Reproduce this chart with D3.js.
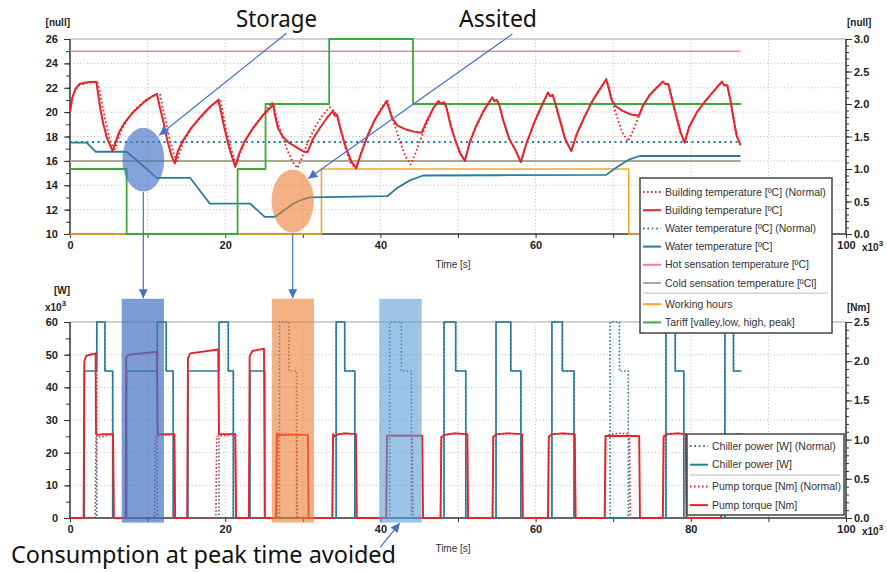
<!DOCTYPE html>
<html>
<head>
<meta charset="UTF-8">
<style>
  body { margin: 0; background: #fff; }
  svg { display: block; font-family: "Liberation Sans", Arial, sans-serif; }
  .tick text { font-weight: bold; font-size: 11px; fill: #222; }
  .tick line { stroke: #333; }
  .grid line { stroke: #c4c4c4; stroke-dasharray: 1.2,2.2; }
  .unit { font-weight: bold; font-size: 10px; fill: #222; }
  .legend text { font-size: 10.5px; fill: #333; }
  .note { font-family: "Noto Sans", sans-serif; font-size: 23px; fill: #111; }
</style>
</head>
<body>
<svg id="chart" width="887" height="572"></svg>
<script src="https://d3js.org/d3.v7.min.js"></script>
<script>
// time in x10^3 s
const buildTemp = [[0,20.0],[0.3,21.2],[0.7,21.9],[1.2,22.3],[2.2,22.45],[3.4,22.5],[3.6,21.6],[3.9,20.3],[4.3,19.0],[4.8,17.8],[5.5,16.8],[5.8,17.4],[6.3,18.3],[7,19.1],[8,19.9],[9.5,20.8],[10.6,21.3],[11.2,21.5],[11.5,20.6],[12,19.3],[12.6,17.5],[13.1,16.4],[13.5,15.8],[13.9,16.8],[14.5,17.6],[15.5,18.6],[16.8,19.6],[18,20.4],[19.1,21.0],[19.4,20.2],[19.9,18.7],[20.5,17.1],[21.0,16.1],[21.3,15.5],[21.8,16.6],[22.5,17.6],[23.5,18.6],[24.8,19.7],[26.2,20.6],[26.4,19.8],[26.8,18.7],[27.4,18.0],[28.2,17.5],[29.2,17.1],[30.0,16.8],[30.6,16.7],[31.3,17.8],[32.2,18.7],[33.2,19.6],[33.9,20.1],[34.1,19.7],[34.4,19.8],[34.9,18.5],[35.6,17.0],[36.3,15.9],[36.9,15.4],[37.5,16.6],[38.3,18.0],[39.3,19.4],[40.3,20.4],[40.8,20.9],[41.1,20.3],[41.5,19.5],[42.2,18.9],[43.2,18.6],[44.3,18.4],[45.3,18.3],[46.0,19.3],[46.8,20.3],[47.5,20.9],[47.8,20.7],[48.2,20.8],[48.5,20.4],[49.1,18.8],[49.7,17.6],[50.3,16.6],[50.9,16.0],[51.5,17.5],[52.3,18.8],[53.3,20.1],[54.4,21.2],[54.7,20.9],[55.0,21.0],[55.3,20.6],[55.9,19.2],[56.6,17.8],[57.4,16.9],[58.1,15.9],[58.8,17.4],[59.8,19.1],[60.7,20.4],[61.6,21.6],[61.9,21.3],[62.2,21.4],[62.5,20.8],[63.2,19.2],[63.8,17.8],[64.2,17.3],[64.6,16.8],[65.3,18.2],[66.3,19.6],[67.3,20.9],[68.2,21.8],[69.1,22.7],[69.4,22.0],[69.8,21.0],[70.3,20.5],[71.2,20.1],[72.3,19.8],[73.3,19.7],[73.8,20.5],[74.7,21.4],[75.6,22.0],[76.4,22.5],[76.7,22.3],[77.1,22.3],[77.6,21.0],[78.2,19.5],[78.7,18.3],[79.2,17.5],[79.8,18.8],[80.8,20.0],[82,21.0],[83.2,21.9],[84.0,22.5],[84.3,22.2],[84.7,22.2],[85.1,21.0],[85.5,19.5],[85.9,18.1],[86.4,17.3]];

const buildTempNormal = [[0,20.0],[0.3,21.1],[0.7,21.8],[1.2,22.2],[2.2,22.4],[3.5,22.5],[3.8,21.8],[4.2,20.4],[4.6,19.2],[5.1,17.8],[5.7,16.8],[6.1,17.6],[6.6,18.5],[7.4,19.4],[8.5,20.3],[9.8,21.0],[11.0,21.4],[11.6,21.5],[11.9,20.5],[12.4,19.1],[12.9,17.6],[13.4,16.5],[13.8,16.0],[14.2,16.9],[14.8,17.8],[15.8,18.8],[17,19.7],[18.2,20.5],[19.3,21.1],[19.6,20.3],[20.1,18.6],[20.7,17.1],[21.2,16.1],[21.5,15.8],[22.0,16.8],[22.7,17.8],[23.7,18.8],[25.0,19.9],[26.0,20.8],[26.3,20.4],[26.7,19.3],[27.3,18.1],[28.0,16.9],[28.7,15.9],[29.3,15.4],[29.9,16.3],[30.7,17.6],[31.6,18.8],[32.6,19.8],[33.5,20.4],[33.8,20.2],[34.2,19.9],[34.5,19.6],[35.0,18.3],[35.6,16.8],[36.2,15.8],[36.8,15.4],[37.5,16.6],[38.3,18.0],[39.3,19.4],[40.3,20.5],[40.9,21.0],[41.2,20.3],[41.8,19.0],[42.5,17.6],[43.2,16.4],[43.9,15.7],[44.5,16.6],[45.2,17.8],[46.0,19.1],[46.8,20.3],[47.5,20.9],[47.8,20.7],[48.2,20.8],[48.5,20.4],[49.1,18.8],[49.7,17.6],[50.3,16.6],[50.9,16.0],[51.5,17.5],[52.3,18.8],[53.3,20.1],[54.4,21.2],[54.7,20.9],[55.0,21.0],[55.3,20.6],[55.9,19.2],[56.6,17.8],[57.4,16.9],[58.1,15.9],[58.8,17.4],[59.8,19.1],[60.7,20.4],[61.6,21.6],[61.9,21.3],[62.2,21.4],[62.5,20.8],[63.2,19.2],[63.8,17.8],[64.2,17.3],[64.6,16.8],[65.3,18.2],[66.3,19.6],[67.3,20.9],[68.2,21.8],[69.1,22.7],[69.5,21.9],[70.0,20.6],[70.6,19.4],[71.2,18.3],[71.9,17.6],[72.5,18.4],[73.2,19.5],[73.8,20.4],[74.7,21.4],[75.6,22.0],[76.4,22.5],[76.7,22.3],[77.1,22.3],[77.6,21.0],[78.2,19.5],[78.7,18.3],[79.2,17.5],[79.8,18.8],[80.8,20.0],[82,21.0],[83.2,21.9],[84.0,22.5],[84.3,22.2],[84.7,22.2],[85.1,21.0],[85.5,19.5],[85.9,18.1],[86.4,17.3]];

const waterTemp = [[0,17.5],[2.15,17.5],[3.3,16.75],[7.3,16.75],[11.2,14.6],[15.5,14.6],[18.0,12.5],[23.2,12.5],[25.1,11.4],[26.4,11.4],[27.5,11.9],[28.8,12.5],[30.0,12.85],[30.9,13.0],[35,13.05],[40.9,13.1],[42.2,13.8],[43.8,14.4],[45.5,14.8],[55,14.82],[69.1,14.85],[70.5,15.5],[72.0,16.1],[73.4,16.4],[86.4,16.4]];
const waterTempNormal = [[0,17.55],[86.4,17.55]];
const hotTemp = [[0,25],[86.4,25]];
const coldTemp = [[0,16],[86.4,16]];
// right axis, step values
const workingHours = [[0,0],[32.4,1],[72.0,0],[86.5,0]];
const tariff = [[0,1],[7.3,0],[21.6,1],[25.2,2],[33.4,3],[44.2,2],[86.5,2]];

// chiller power, x10^3 W, step values
const chiller = [[0,0],[1.85,45],[3.45,60],[4.5,45],[5.5,0],[7.3,45],[11.25,60],[12.4,45],[13.3,0],[15.2,45],[19.2,60],[20.4,45],[21.05,0],[23.2,45],[25.1,0],[34.3,60],[35.4,45],[36.7,0],[48.2,60],[49.7,45],[51.0,0],[54.9,60],[56.8,45],[58.1,0],[62.1,60],[63.45,45],[64.95,0],[76.8,60],[78.0,45],[79.1,0],[84.4,60],[85.5,45],[86.5,45]];
const chillerNormal = [[0,0],[3.45,60],[4.5,45],[5.5,0],[11.25,60],[12.4,45],[13.3,0],[19.2,60],[20.4,45],[21.05,0],[27.0,60],[28.2,45],[29.2,0],[34.3,60],[35.4,45],[36.7,0],[41.2,60],[42.7,45],[44.0,0],[48.2,60],[49.7,45],[51.0,0],[54.9,60],[56.8,45],[58.1,0],[62.1,60],[63.45,45],[64.95,0],[69.6,60],[70.8,45],[71.95,0],[76.8,60],[78.0,45],[79.1,0],[84.4,60],[85.5,45],[86.5,45]];
// pump torque, Nm
const pump = [[0,0],[1.75,0],[1.85,2.0],[2.1,2.07],[3.3,2.1],[3.35,1.07],[3.6,1.06],[4.2,1.07],[5.55,1.07],[5.65,0],[7.15,0],[7.25,2.04],[7.5,2.08],[11.2,2.12],[11.3,1.06],[11.6,1.07],[13.45,1.07],[13.55,0],[15.1,0],[15.2,2.04],[15.5,2.1],[19.1,2.15],[19.2,1.07],[21.3,1.07],[21.4,0],[23.05,0],[23.15,2.06],[23.5,2.13],[25.0,2.16],[25.1,0],[26.55,0],[26.65,1.08],[26.9,1.05],[27.5,1.06],[30.65,1.06],[30.75,0],[33.8,0],[33.9,1.07],[34.1,1.04],[34.6,1.07],[35.5,1.08],[36.85,1.07],[36.95,0],[40.75,0],[40.85,1.05],[45.4,1.05],[45.5,0],[47.75,0],[47.85,1.03],[48.3,1.06],[49.5,1.08],[51.2,1.07],[51.3,0],[54.45,0],[54.55,1.04],[55.0,1.07],[56.5,1.08],[58.25,1.07],[58.35,0],[61.6,0],[61.7,1.04],[62.2,1.07],[63.5,1.08],[65.05,1.07],[65.15,0],[68.9,0],[69.0,1.045],[73.35,1.045],[73.45,0],[76.4,0],[76.5,1.04],[77.0,1.07],[78.3,1.08],[79.35,1.07],[79.45,0],[83.9,0],[84.0,1.05],[86.5,1.07]];
const pumpNormal = [[0,0],[3.25,0],[3.35,1.02],[5.55,1.07],[5.65,0],[10.9,0],[11.0,1.04],[13.45,1.07],[13.55,0],[18.8,0],[18.9,1.04],[21.3,1.07],[21.4,0],[26.7,0],[26.8,1.07],[29.2,1.07],[29.3,0],[33.8,0],[33.9,1.07],[34.1,1.04],[34.6,1.07],[35.5,1.08],[36.85,1.07],[36.95,0],[40.75,0],[40.85,1.05],[44.1,1.06],[44.2,0],[47.75,0],[47.85,1.03],[48.3,1.06],[49.5,1.08],[51.2,1.07],[51.3,0],[54.45,0],[54.55,1.04],[55.0,1.07],[56.5,1.08],[58.25,1.07],[58.35,0],[61.6,0],[61.7,1.04],[62.2,1.07],[63.5,1.08],[65.05,1.07],[65.15,0],[68.95,0],[69.05,1.05],[69.8,1.07],[71.0,1.08],[72.1,1.07],[72.2,0],[76.4,0],[76.5,1.04],[77.0,1.07],[78.3,1.08],[79.35,1.07],[79.45,0],[83.9,0],[84.0,1.05],[86.5,1.07]];

const xTicks = [0,10,20,30,40,50,60,70,80,90,100];
const topXLabels = [0,20,40,60,100];      // 80 sits under the legend
const botXLabels = [0,20,40,60,80,100];
const topLeftTicks = [10,12,14,16,18,20,22,24,26];
const topRightTicks = [0,0.5,1,1.5,2,2.5,3];
const botLeftTicks = [0,10,20,30,40,50,60];
const botRightTicks = [0,0.5,1,1.5,2,2.5];

const topLegend = ["Building temperature [ºC] (Normal)","Building temperature [ºC]","Water temperature [ºC] (Normal)","Water temperature [ºC]","Hot sensation temperature [ºC]","Cold sensation temperature [ºCl]","Working hours","Tariff [valley,low, high, peak]"];
const botLegend = ["Chiller power [W] (Normal)","Chiller power [W]","Pump torque [Nm] (Normal)","Pump torque [Nm]"];

const RED = "#e8232a", TEAL = "#287c9c", GREEN = "#3aaa3a", ORANGE = "#f6a623", PINK = "#ef7fa4", GRAY = "#aaa797", BLUE = "#4472c4";

const svg = d3.select("#chart");
const x = d3.scaleLinear().domain([0,100]).range([70,846]);
const yT = d3.scaleLinear().domain([10,26]).range([234,39]);
const yTR = d3.scaleLinear().domain([0,3]).range([234,39]);
const yB = d3.scaleLinear().domain([0,60]).range([518,322]);
const yBR = d3.scaleLinear().domain([0,2.5]).range([518,322]);

const defs = svg.append("defs");
defs.append("marker").attr("id","arr").attr("viewBox","0 0 10 10").attr("refX",10).attr("refY",5)
  .attr("markerWidth",11).attr("markerHeight",9).attr("markerUnits","userSpaceOnUse").attr("orient","auto")
  .append("path").attr("d","M0,0L10,5L0,10Z").attr("fill",BLUE);

function frame(yL, yR, leftMajor, leftMinorStep, rightMajor, rightMinorStep, fmtL, fmtR, xLabels) {
  const g = svg.append("g");
  const y0 = yL.range()[0], y1 = yL.range()[1];
  // grid
  g.append("g").attr("class","grid").selectAll("line").data(xTicks.slice(1,-1)).join("line")
    .attr("x1",d=>x(d)).attr("x2",d=>x(d)).attr("y1",y1).attr("y2",y0);
  g.append("g").attr("class","grid").selectAll("line").data(leftMajor.slice(1,-1)).join("line")
    .attr("x1",70).attr("x2",846).attr("y1",d=>yL(d)).attr("y2",d=>yL(d));
  g.append("line").attr("x1",70).attr("x2",846).attr("y1",y1).attr("y2",y1).attr("stroke","#d2d2d2").attr("stroke-width",2);

  const dL = yL.domain(), dR = yR.domain();
  const minorL = d3.range(dL[0], dL[1] + 1e-9, leftMinorStep);
  const minorR = d3.range(dR[0], dR[1] + 1e-9, rightMinorStep);
  g.append("g").attr("transform","translate(70,0)")
    .call(d3.axisLeft(yL).tickValues(minorL).tickSize(4).tickFormat(""))
    .call(a => a.select(".domain").remove());
  g.append("g").attr("transform","translate(70,0)")
    .call(d3.axisLeft(yL).tickValues(leftMajor).tickSize(6).tickPadding(6).tickFormat(fmtL))
    .call(a => a.select(".domain").remove());
  g.append("g").attr("transform","translate(846,0)")
    .call(d3.axisRight(yR).tickValues(minorR).tickSize(3).tickFormat(""))
    .call(a => a.select(".domain").remove());
  g.append("g").attr("transform","translate(846,0)")
    .call(d3.axisRight(yR).tickValues(rightMajor).tickSize(6).tickPadding(2).tickFormat(fmtR))
    .call(a => a.select(".domain").remove());
  g.append("g").attr("transform",`translate(0,${y0})`)
    .call(d3.axisBottom(x).tickValues(xTicks).tickSize(4).tickPadding(3).tickFormat(d => xLabels.includes(d) ? d : ""))
    .call(a => a.select(".domain").remove());

  g.append("line").attr("x1",70).attr("x2",70).attr("y1",y1).attr("y2",y0).attr("stroke","#333").attr("stroke-width",1.5);
  g.append("line").attr("x1",846).attr("x2",846).attr("y1",y1).attr("y2",y0).attr("stroke","#333").attr("stroke-width",1.5);
  g.append("line").attr("x1",70).attr("x2",846).attr("y1",y0).attr("y2",y0).attr("stroke","#333").attr("stroke-width",1.5);

  const xl = g.append("text").attr("class","unit").attr("x",862).attr("y",y0 + 17);
  xl.append("tspan").text("x10");
  xl.append("tspan").attr("dy",-5).attr("font-size",8).text("3");
  g.append("text").attr("x",453).attr("y",y0 + 34).attr("text-anchor","middle")
    .attr("font-size",10).attr("fill","#333").text("Time [s]");
  return g;
}

frame(yT, yTR, topLeftTicks, 1, topRightTicks, 0.1, d3.format("d"), d3.format(".1f"), topXLabels);
frame(yB, yBR, botLeftTicks, 5, botRightTicks, 0.1, d3.format("d"), d3.format(".1f"), botXLabels);

svg.append("text").attr("class","unit").attr("x",70).attr("y",26).attr("text-anchor","end").text("[null]");
svg.append("text").attr("class","unit").attr("x",847).attr("y",26).text("[null]");
svg.append("text").attr("class","unit").attr("x",70).attr("y",294).attr("text-anchor","end").text("[W]");
const kx = svg.append("text").attr("class","unit").attr("x",45).attr("y",311);
kx.append("tspan").text("x10");
kx.append("tspan").attr("dy",-5).attr("font-size",8).text("3");
svg.append("text").attr("class","unit").attr("x",847).attr("y",311).text("[Nm]");

function plot(data, yS, color, width, dash, curve) {
  const ln = d3.line().x(d => x(d[0])).y(d => yS(d[1])).curve(curve || d3.curveLinear);
  svg.append("path").datum(data).attr("d", ln).attr("fill","none")
    .attr("stroke",color).attr("stroke-width",width)
    .attr("stroke-dasharray", dash || null).attr("stroke-linejoin","round");
}

// top chart
plot(workingHours, yTR, ORANGE, 1.6, null, d3.curveStepAfter);
plot(hotTemp, yT, PINK, 1.6);
plot(coldTemp, yT, GRAY, 2);
plot(waterTempNormal, yT, TEAL, 2, "2,3.5");
plot(waterTemp, yT, TEAL, 1.8);
plot(tariff, yTR, GREEN, 1.8, null, d3.curveStepAfter);
plot(buildTempNormal, yT, RED, 1.9, "1.6,2.4");
plot(buildTemp, yT, RED, 2);

// bottom chart
plot(chillerNormal, yB, TEAL, 1.6, "1.6,2", d3.curveStepAfter);
plot(chiller, yB, TEAL, 1.6, null, d3.curveStepAfter);
plot(pumpNormal, yBR, RED, 1.6, "1.6,2");
plot(pump, yBR, RED, 1.9);

// annotations (data units)
const ellipses = [
  {t:9.45, v:16.1, rt:2.7, rv:2.62, color:BLUE, op:0.65},
  {t:28.7, v:12.7, rt:2.73, rv:2.6, color:"#ed7d31", op:0.6}
];
ellipses.forEach(e => {
  svg.append("ellipse").attr("cx",x(e.t)).attr("cy",yT(e.v))
    .attr("rx",x(e.t + e.rt) - x(e.t)).attr("ry",yT(e.v - e.rv) - yT(e.v))
    .attr("fill",e.color).attr("opacity",e.op);
});
const bands = [
  {t0:6.66, t1:12.11, color:BLUE, op:0.7},
  {t0:26.0, t1:31.44, color:"#ed7d31", op:0.6},
  {t0:39.86, t1:45.32, color:"#5b9bd5", op:0.6}
];
bands.forEach(b => {
  svg.append("rect").attr("x",x(b.t0)).attr("width",x(b.t1) - x(b.t0))
    .attr("y",yB(67.1)).attr("height",yB(-1.4) - yB(67.1))
    .attr("fill",b.color).attr("opacity",b.op);
});

function arrow(x1, y1, x2, y2) {
  svg.append("line").attr("x1",x1).attr("y1",y1).attr("x2",x2).attr("y2",y2)
    .attr("stroke",BLUE).attr("stroke-width",1.2).attr("marker-end","url(#arr)");
}
arrow(x(27.9), yT(26.47), x(11.5), yT(18.1));
arrow(x(57.0), yT(26.41), x(30.7), yT(14.55));
arrow(x(9.45), yT(13.45), x(9.45), yB(67.3));
arrow(x(28.7), yT(10.05), x(28.7), yB(67.3));
arrow(x(40.0), yB(-8.9), x(42.5), yB(-1.6));

svg.append("text").attr("class","note").attr("x",236).attr("y",27).attr("textLength",81).attr("lengthAdjust","spacingAndGlyphs").text("Storage");
svg.append("text").attr("class","note").attr("x",459).attr("y",27).attr("textLength",78).attr("lengthAdjust","spacingAndGlyphs").text("Assited");
svg.append("text").attr("class","note").attr("x",11).attr("y",563).attr("textLength",385).attr("lengthAdjust","spacingAndGlyphs").text("Consumption at peak time avoided");

// legends
function legend(x0, y0, w, h, labels, styles, sepAfter, firstY, step) {
  const g = svg.append("g").attr("class","legend");
  g.append("rect").attr("x",x0).attr("y",y0).attr("width",w).attr("height",h)
    .attr("fill","#fff").attr("stroke","#444").attr("stroke-width",1.5);
  labels.forEach((lab, i) => {
    const yy = firstY + i * step + (i > sepAfter ? 3 : 0);
    const s = styles[i];
    g.append("line").attr("x1",x0 + 3).attr("x2",x0 + 21).attr("y1",yy).attr("y2",yy)
      .attr("stroke",s[0]).attr("stroke-width",2).attr("stroke-dasharray",s[1] || null);
    g.append("text").attr("x",x0 + 25).attr("y",yy).attr("dy","0.35em").text(lab);
  });
  const sy = firstY + sepAfter * step + step / 2 + 1;
  g.append("line").attr("x1",x0 + 3).attr("x2",x0 + w - 4).attr("y1",sy).attr("y2",sy)
    .attr("stroke","#bbb").attr("stroke-width",1);
}
legend(640, 178, 192, 155, topLegend,
  [[RED,"1.6,2.4"],[RED],[TEAL,"1.6,2.8"],[TEAL],[PINK],[GRAY],[ORANGE],[GREEN]], 5, 192, 18.2);
legend(687, 434, 157, 81, botLegend,
  [[TEAL,"1.6,2.8"],[TEAL],[RED,"1.6,2.4"],[RED]], 1, 446, 18.7);
</script>
</body>
</html>
